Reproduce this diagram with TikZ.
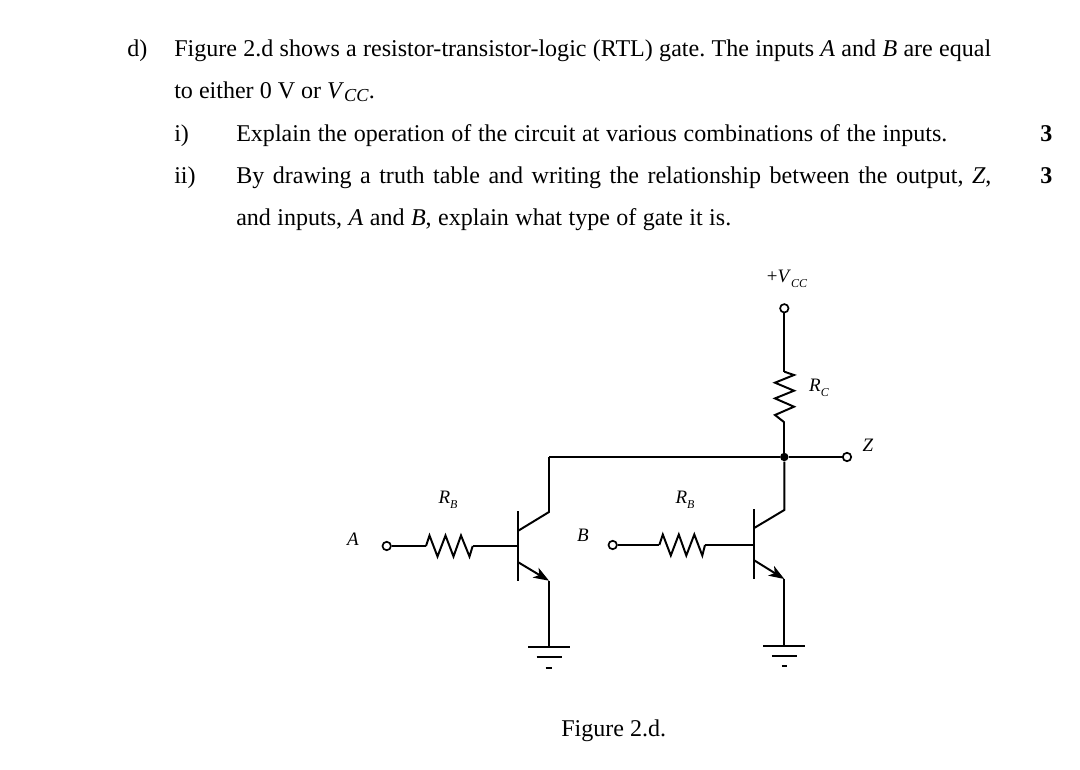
\documentclass[tikz,border=0pt]{standalone}
\usepackage{fontspec}
\setmainfont{Liberation Serif}
\usetikzlibrary{arrows.meta}
\frenchspacing
\newcommand{\txtsize}{\fontsize{17.1}{20}\selectfont}
\newcommand{\labsize}{\fontsize{13.5}{15}\selectfont}
\newcommand{\subsize}{\fontsize{8.5}{9}\selectfont}
\newcommand{\fitline}[2]{\makebox[#1][s]{#2}}
\newcommand{\lab}[2]{\textit{#1}\raisebox{-3.5pt}{\subsize\textit{#2}}}
\tikzset{
    txtline/.style={anchor=base west, inner sep=0pt, font=\txtsize},
    lablet/.style={inner sep=0pt, font=\labsize},
    wire/.style={line width=1.4pt, line join=miter},
    emitter/.style={wire, -{Stealth[length=11pt,width=8pt,inset=3pt]}},
    terminal/.style={circle, draw, line width=1.2pt, fill=white, inner sep=0pt, minimum size=6pt},
    junction/.style={circle, fill=black, inner sep=0pt, minimum size=6pt}
}
\begin{document}
\begin{tikzpicture}[x=0.025cm, y=-0.025cm]
        \useasboundingbox (0,0) rectangle (1080,770);
        % question text
        \node[txtline] (qd) at (127,56) {d)};
        \node[txtline] (lineone) at (174,56) {\fitline{581pt}{Figure 2.d shows a resistor-transistor-logic (RTL) gate. The inputs \textit{A} and \textit{B} are equal}};
        \node[txtline] (linetwo) at (174,98) {to either 0 V or \textit{V}\raisebox{-2.5pt}{\fontsize{13}{13}\selectfont\textit{CC}}.};
        \node[txtline] (qi) at (174,141) {i)};
        \node[txtline] (linethree) at (236,141) {\fitline{505.7pt}{Explain the operation of the circuit at various combinations of the inputs.}};
        \node[txtline] (markone) at (1040,141) {\textbf{3}};
        \node[txtline] (qii) at (174,183) {ii)};
        \node[txtline] (linefour) at (236,183) {\fitline{537pt}{By drawing a truth table and writing the relationship between the output, \textit{Z},}};
        \node[txtline] (marktwo) at (1040,183) {\textbf{3}};
        \node[txtline] (linefive) at (236,225) {\fitline{352pt}{and inputs, \textit{A} and \textit{B}, explain what type of gate it is.}};
        \node[txtline] (caption) at (561,736) {Figure 2.d.};
        % points of the circuit
        \coordinate (rbAin) at (426,546);
        \coordinate (rbAout) at (472.7,546);
        \coordinate (baseA) at (518.3,546);
        \coordinate (barAtop) at (518.3,511);
        \coordinate (barAbot) at (518.3,580.7);
        \coordinate (colAin) at (518.3,530.7);
        \coordinate (colA) at (549,512);
        \coordinate (emAin) at (518.3,562.3);
        \coordinate (emA) at (549,580.7);
        \coordinate (gndA) at (549,647.3);
        \coordinate (topA) at (549,457);
        \coordinate (rbBin) at (659.3,545);
        \coordinate (rbBout) at (705,545);
        \coordinate (baseB) at (753.7,545);
        \coordinate (barBtop) at (753.7,509.3);
        \coordinate (barBbot) at (753.7,579.3);
        \coordinate (colBin) at (753.7,528.3);
        \coordinate (colB) at (784.3,510);
        \coordinate (emBin) at (753.7,560);
        \coordinate (emB) at (784.3,579);
        \coordinate (gndB) at (784.3,645.7);
        \coordinate (rcin) at (784.3,371.7);
        \coordinate (rcout) at (784.3,422.3);
        % terminals
        \node[terminal] (termA) at (386.7,546) {};
        \node[terminal] (termB) at (612.7,545) {};
        \node[terminal] (termVcc) at (784.3,308.3) {};
        \node[terminal] (termZ) at (847,457) {};
        \node[junction] (joint) at (784.3,457) {};
        % left transistor
        \draw[wire] (termA) -- (rbAin);
        \draw[wire] (rbAin) -- ++(3.5,-10.5) -- ++(8,21) -- ++(8,-21) -- ++(8,21) -- ++(7.5,-21) -- ++(8.5,21) -- (rbAout);
        \draw[wire] (rbAout) -- (baseA);
        \draw[wire] (barAtop) -- (barAbot);
        \draw[wire] (colAin) -- (colA) -- (topA);
        \draw[emitter] (emAin) -- (emA);
        \draw[wire] (emA) -- (gndA);
        \draw[wire] (gndA) ++(-21,0) -- ++(42,0);
        \draw[wire] (gndA) ++(-12.5,10) -- ++(25,0);
        \draw[wire] (gndA) ++(-3.3,20.4) -- ++(6.6,0);
        % right transistor
        \draw[wire] (termB) -- (rbBin);
        \draw[wire] (rbBin) -- ++(3.5,-10.5) -- ++(8,21) -- ++(8,-21) -- ++(7.5,21) -- ++(8,-21) -- ++(8,21) -- (rbBout);
        \draw[wire] (rbBout) -- (baseB);
        \draw[wire] (barBtop) -- (barBbot);
        \draw[wire] (colBin) -- (colB) -- (joint);
        \draw[emitter] (emBin) -- (emB);
        \draw[wire] (emB) -- (gndB);
        \draw[wire] (gndB) ++(-21,0) -- ++(42,0);
        \draw[wire] (gndB) ++(-12.5,10.3) -- ++(25,0);
        \draw[wire] (gndB) ++(-2.5,20) -- ++(5,0);
        % collector rail and load
        \draw[wire] (topA) -- (joint);
        \draw[wire] (joint) -- (termZ);
        \draw[wire] (termVcc) -- (rcin);
        \draw[wire] (rcin) -- ++(9.7,3.3) -- ++(-19,7.7) -- ++(19,8) -- ++(-19,7.7) -- ++(19,8.3) -- ++(-19,8.3) -- (rcout);
        \draw[wire] (rcout) -- (joint);
        % labels
        \node[lablet] (labVcc) at (787,279) {+\lab{V}{CC}};
        \node[lablet] (labRc) at (819,388) {\lab{R}{C}};
        \node[lablet] (labZ) at (868,445) {\textit{Z}};
        \node[lablet] (labRbA) at (448,500) {\lab{R}{B}};
        \node[lablet] (labRbB) at (685,500) {\lab{R}{B}};
        \node[lablet] (labA) at (353,539) {\textit{A}};
        \node[lablet] (labB) at (583,535) {\textit{B}};
    \end{tikzpicture}
\end{document}
